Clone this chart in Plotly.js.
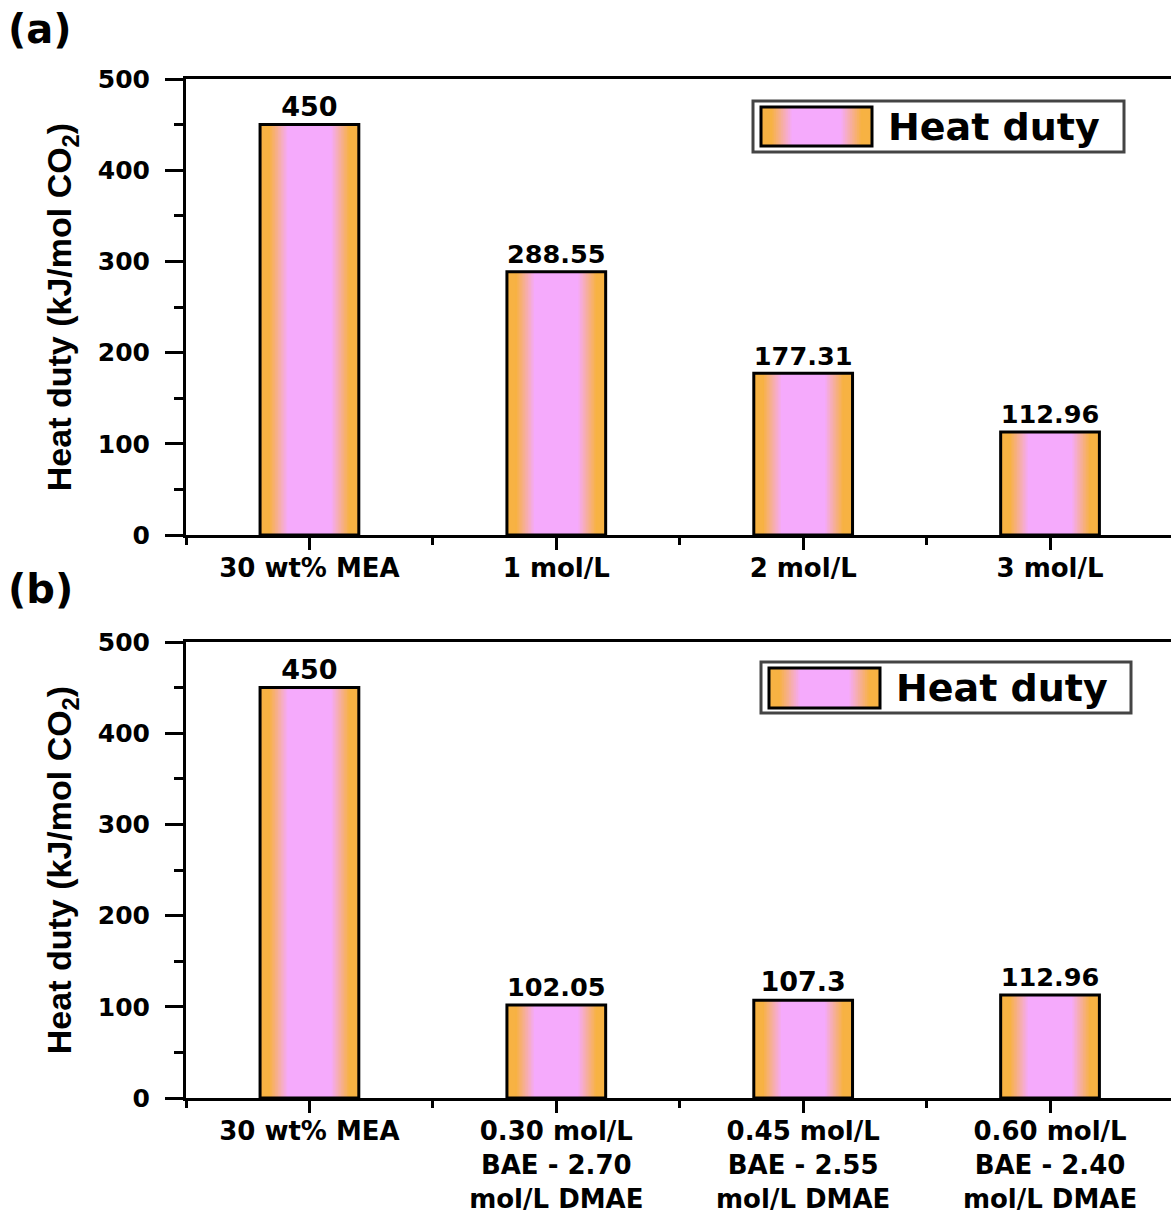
<!DOCTYPE html>
<html>
<head>
<meta charset="utf-8">
<script src="https://cdn.plot.ly/plotly-3.0.1.min.js"></script>
<style>html,body{margin:0;padding:0;background:#fff;}</style>
</head>
<body>
<div id="chart" style="width:1171px;height:1212px;"></div>
<script>
// ---------------- data ----------------
const categoriesA = ['30 wt% MEA', '1 mol/L', '2 mol/L', '3 mol/L'];
const valuesA = [450, 288.55, 177.31, 112.96];
const labelsA = ['450', '288.55', '177.31', '112.96'];

const categoriesB = ['30 wt% MEA', '0.30 mol/L<br>BAE - 2.70<br>mol/L DMAE', '0.45 mol/L<br>BAE - 2.55<br>mol/L DMAE', '0.60 mol/L<br>BAE - 2.40<br>mol/L DMAE'];
const valuesB = [450, 102.05, 107.3, 112.96];
const labelsB = ['450', '102.05', '107.3', '112.96'];

const seriesName = 'Heat duty';
const yTitle = 'Heat duty (kJ/mol CO<sub>2</sub>)';
const yTickVals = [0, 100, 200, 300, 400, 500];

// ---------------- styling helpers ----------------
const W = 1171, H = 1212, ML = 186;
const px = x => (x - ML) / (W - ML);
const py = y => 1 - y / H;
const ORANGE = [247, 178, 67];
const PINK = [245, 170, 252];
function mix(t) {
  const c = ORANGE.map((o, i) => Math.round(o + (PINK[i] - o) * t));
  return 'rgb(' + c.join(',') + ')';
}
const BARW = 0.40;
// gradient layers: [width, color]
const layers = [[BARW, mix(0)]];
const N = 12;
for (let i = 0; i <= N; i++) {
  const t = i / N;
  layers.push([0.33 - (0.33 - 0.18) * t, mix(t)]);
}

const numFont = 'DejaVu Sans, Verdana, sans-serif';

function panelTraces(cats, vals, labels, xa, ya) {
  const xs = cats.map((_, i) => i);
  const tr = layers.map(([w, c]) => ({
    type: 'bar', x: xs, y: vals, width: w, xaxis: xa, yaxis: ya,
    marker: { color: c, line: { width: 0 } }, showlegend: false, hoverinfo: 'skip', name: seriesName
  }));
  tr.push({
    type: 'bar', x: xs, y: vals, width: BARW, xaxis: xa, yaxis: ya, name: seriesName,
    marker: { color: 'rgba(0,0,0,0)', line: { color: '#000', width: 3 } },
    text: labels, textposition: 'outside', cliponaxis: false,
    textfont: { family: numFont, size: 27, color: '#000', weight: 'bold' },
    showlegend: false
  });
  return tr;
}

function xAxis(cats, anchor) {
  return {
    anchor: anchor, domain: [0, 1], range: [-0.5, 3.49],
    tickmode: 'array', tickvals: cats.map((_, i) => i), ticktext: cats,
    ticks: 'outside', ticklen: 12, tickwidth: 3, tickcolor: '#000',
    showline: true, linewidth: 3, linecolor: '#000', mirror: true,
    showgrid: false, zeroline: false, ticklabelstandoff: -4,
    tickfont: { family: numFont, size: 26, color: '#000', weight: 'bold' },
    minor: { tick0: -0.5, dtick: 1, ticks: 'outside', ticklen: 7, tickwidth: 3, tickcolor: '#000', showgrid: false }
  };
}
function yAxis(domain, anchor) {
  return {
    anchor: anchor, domain: domain, range: [0, 500],
    tickmode: 'array', tickvals: yTickVals,
    ticks: 'outside', ticklen: 18, tickwidth: 3, tickcolor: '#000',
    showline: true, linewidth: 3, linecolor: '#000', mirror: false,
    showgrid: false, zeroline: false, ticklabelstandoff: 10,
    tickfont: { family: numFont, size: 25, color: '#000', weight: 'bold' },
    minor: { tick0: 0, dtick: 50, ticks: 'outside', ticklen: 9, tickwidth: 3, tickcolor: '#000', showgrid: false },
    title: { text: yTitle, standoff: 16, font: { family: 'Liberation Sans, Arial, sans-serif', size: 34, color: '#000', weight: 'bold' } }
  };
}

const data = [].concat(
  panelTraces(categoriesA, valuesA, labelsA, 'x', 'y'),
  panelTraces(categoriesB, valuesB, labelsB, 'x2', 'y2')
);

// manual legends (box, gradient swatch, text)
const shapes = [];
const annotations = [];
function legend(bx0, by0, bx1, by1, sx0, sy0, sx1, sy1, tx) {
  shapes.push({ type: 'rect', xref: 'paper', yref: 'paper', x0: px(bx0), x1: px(bx1), y0: py(by0), y1: py(by1),
    line: { color: '#444', width: 3 }, fillcolor: '#fff' });
  const sw = sx1 - sx0, cx = (sx0 + sx1) / 2;
  layers.forEach(([w, c]) => {
    const hw = sw * (w / BARW) / 2;
    shapes.push({ type: 'rect', xref: 'paper', yref: 'paper', x0: px(cx - hw), x1: px(cx + hw), y0: py(sy0), y1: py(sy1),
      line: { width: 0 }, fillcolor: c });
  });
  shapes.push({ type: 'rect', xref: 'paper', yref: 'paper', x0: px(sx0), x1: px(sx1), y0: py(sy0), y1: py(sy1),
    line: { color: '#000', width: 3 }, fillcolor: 'rgba(0,0,0,0)' });
  annotations.push({ xref: 'paper', yref: 'paper', x: px(tx), y: py((sy0 + sy1) / 2), xanchor: 'left', yanchor: 'middle',
    text: seriesName, showarrow: false, font: { family: numFont, size: 38, color: '#000', weight: 'bold' } });
}
legend(753, 101, 1124, 152, 761, 107, 872, 146, 886);
legend(761, 662, 1131, 713, 769, 668, 880, 708, 894);

annotations.push({ xref: 'paper', yref: 'paper', x: px(6), y: py(4), xanchor: 'left', yanchor: 'top', text: '(a)', showarrow: false,
  font: { family: numFont, size: 40, color: '#000', weight: 'bold' } });
annotations.push({ xref: 'paper', yref: 'paper', x: px(6), y: py(564), xanchor: 'left', yanchor: 'top', text: '(b)', showarrow: false,
  font: { family: numFont, size: 40, color: '#000', weight: 'bold' } });

const layout = {
  width: W, height: H,
  margin: { l: ML, r: 0, t: 0, b: 0 },
  paper_bgcolor: '#fff', plot_bgcolor: '#fff',
  barmode: 'overlay', showlegend: false,
  xaxis: xAxis(categoriesA, 'y'),
  yaxis: yAxis([677 / H, 1133 / H], 'x'),
  xaxis2: xAxis(categoriesB, 'y2'),
  yaxis2: yAxis([114 / H, 570 / H], 'x2'),
  shapes: shapes, annotations: annotations
};

Plotly.newPlot('chart', data, layout, { displayModeBar: false, staticPlot: true });
</script>
</body>
</html>
